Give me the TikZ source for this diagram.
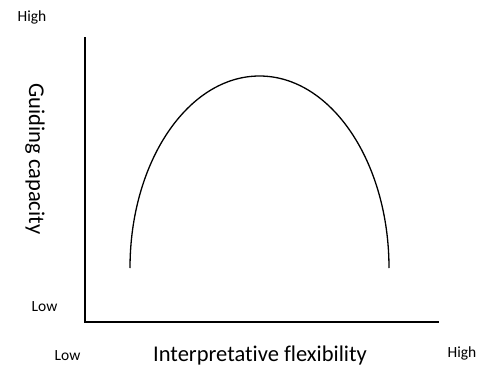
\documentclass[tikz,border=0pt]{standalone}
\usepackage{fontspec}
\setmainfont{Carlito}[Ligatures=NoCommon]
\begin{document}
\begin{tikzpicture}[x=1pt,y=-1pt,
    axis/.style={line width=1.6pt,line cap=rect},
    curve/.style={line width=1.3pt},
    tick/.style={font=\fontsize{15.5}{18}\selectfont,inner sep=0pt},
    title/.style={font=\fontsize{22.5}{26}\selectfont,inner sep=0pt}]
  \useasboundingbox (0,0) rectangle (480,367);
  % axes
  \coordinate (origin) at (85,322);
  \coordinate (ytop) at (85,38);
  \coordinate (xend) at (438,322);
  \draw[axis] (ytop) -- (origin) -- (xend);
  % curve
  \coordinate (arcL) at (130,268);
  \draw[curve] (arcL) arc[start angle=180,end angle=360,x radius=129.5,y radius=192];
  % labels
  \node[tick] (yhigh) at (32,17) {High};
  \node[tick] (ylow) at (44.5,307) {Low};
  \node[tick] (xlow) at (67.5,356) {Low};
  \node[tick] (xhigh) at (462,353) {High};
  \node[title] (xlabel) at (260,355) {Interpretative flexibility};
  \node[title,rotate=-90] (ylabel) at (35,159) {Guiding capacity};
\end{tikzpicture}
\end{document}
